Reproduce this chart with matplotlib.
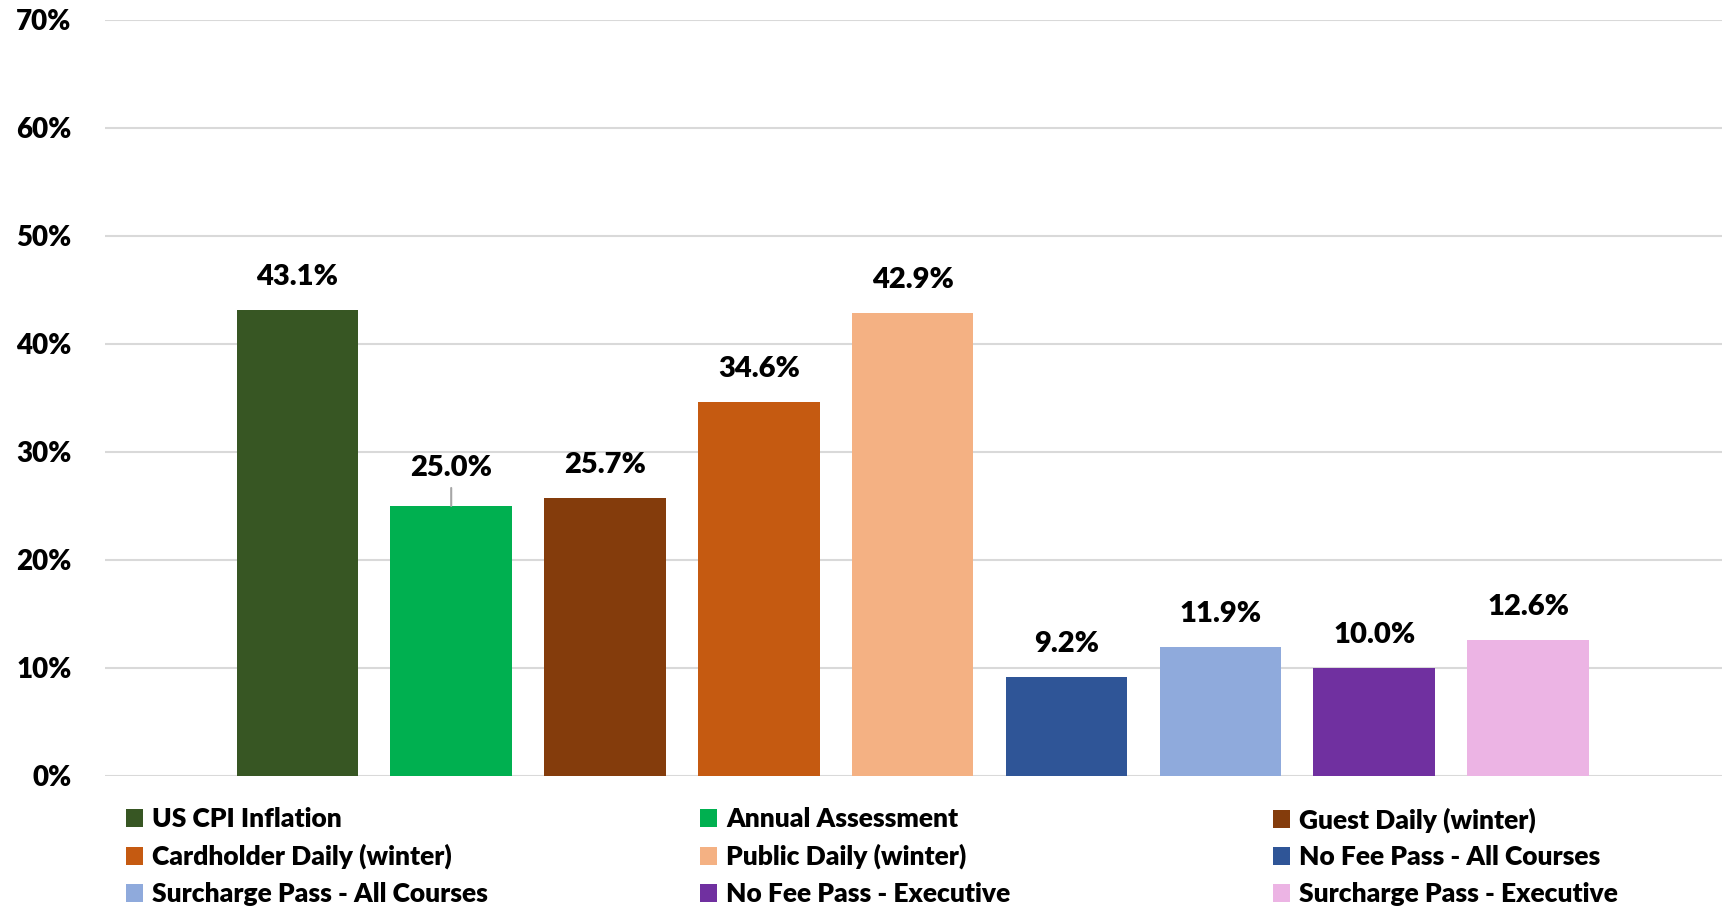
import matplotlib
matplotlib.use('Agg')
import matplotlib.pyplot as plt
from matplotlib.patches import Patch
from matplotlib.ticker import FuncFormatter

# data
series = ["US CPI Inflation", "Annual Assessment", "Guest Daily (winter)",
          "Cardholder Daily (winter)", "Public Daily (winter)", "No Fee Pass - All Courses",
          "Surcharge Pass - All Courses", "No Fee Pass - Executive", "Surcharge Pass - Executive"]
values = [43.1, 25.0, 25.7, 34.6, 42.9, 9.2, 11.9, 10.0, 12.6]
colors = ["#375623", "#00B050", "#843C0C", "#C55A11", "#F4B183",
          "#2F5597", "#8FAADC", "#7030A0", "#ECB4E4"]
yticks = [0, 10, 20, 30, 40, 50, 60, 70]

plt.rcParams['font.family'] = ['Lato', 'DejaVu Sans']
W = 'heavy'

fig = plt.figure(figsize=(17.34, 9.08), dpi=100)
ax = fig.add_axes([0.0606, 0.1454, 0.9324, 0.8326])

xs = list(range(len(values)))
ax.bar(xs, values, width=0.79, color=colors, zorder=3)

for x, v in zip(xs, values):
    off = 33
    if v == 25.0:
        off = 38
        ax.annotate("", xy=(x, v), xytext=(0, 18), textcoords="offset pixels",
                    arrowprops=dict(arrowstyle="-", color="#A6A6A6", lw=1.5,
                                    shrinkA=0, shrinkB=0), zorder=4)
    ax.annotate(f"{v:.1f}%", xy=(x, v), xytext=(0, off), textcoords="offset pixels",
                ha="center", va="center", fontsize=21, fontweight=W, color="black")

ax.set_xlim(-1.25, 9.26)
ax.set_ylim(0, 70)
ax.set_yticks(yticks)
ax.yaxis.set_major_formatter(FuncFormatter(lambda v, p: f"{v:.0f}%"))
ax.tick_params(axis='y', length=0, pad=24, labelsize=20)
ax.set_xticks([])
for lab in ax.get_yticklabels():
    lab.set_fontweight(W)
ax.grid(axis='y', color="#D9D9D9", linewidth=1.5, zorder=0)
for s in ax.spines.values():
    s.set_visible(False)

# legend: three columns, each its own legend so column starts match
handles = [Patch(facecolor=c, label=l) for c, l in zip(colors, series)]
col_x = [126 / 1734, 700 / 1734, 1273 / 1734]
for ci, cx in enumerate(col_x):
    idx = [ci, ci + 3, ci + 6]
    fig.legend([handles[i] for i in idx], [series[i] for i in idx], ncol=1,
               loc="upper left", bbox_to_anchor=(cx, 1 - 807 / 908), frameon=False,
               prop={'size': 19, 'weight': W}, handlelength=0.65, handleheight=0.65,
               handletextpad=0.35, labelspacing=0.49, borderaxespad=0, borderpad=0)

fig.savefig("out.png", dpi=100)
